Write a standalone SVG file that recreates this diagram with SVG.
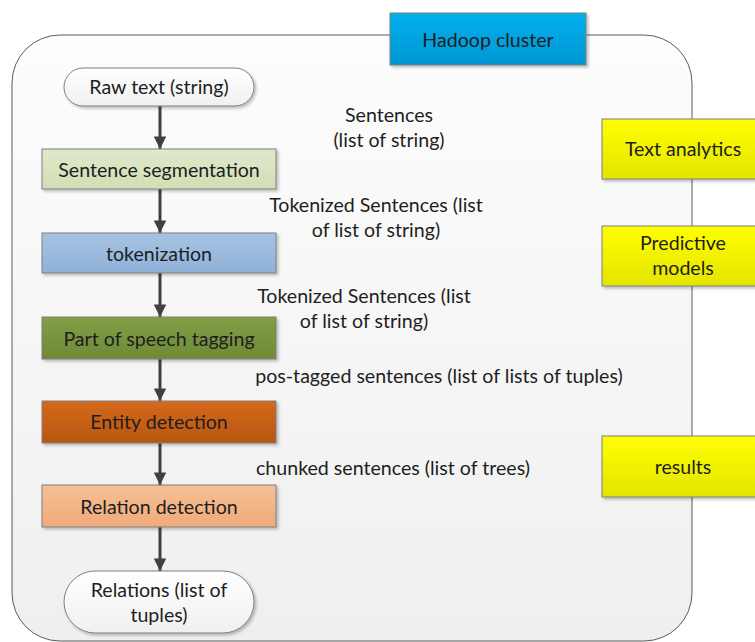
<svg xmlns="http://www.w3.org/2000/svg" width="755" height="642" viewBox="0 0 755 642">
<defs>
<linearGradient id="gCluster" x1="0" y1="0" x2="0" y2="1"><stop offset="0" stop-color="#fdfdfd"/><stop offset="1" stop-color="#efefef"/></linearGradient>
<linearGradient id="gBlue" x1="0" y1="0" x2="0" y2="1"><stop offset="0" stop-color="#00b0ec"/><stop offset="1" stop-color="#0096d2"/></linearGradient>
<linearGradient id="gYellow" x1="0" y1="0" x2="0" y2="1"><stop offset="0" stop-color="#ffff00"/><stop offset="1" stop-color="#e4e400"/></linearGradient>
<linearGradient id="gPill" x1="0" y1="0" x2="0" y2="1"><stop offset="0" stop-color="#ffffff"/><stop offset="1" stop-color="#f0f0f0"/></linearGradient>
<linearGradient id="gSeg" x1="0" y1="0" x2="0" y2="1"><stop offset="0" stop-color="#e0e9cb"/><stop offset="1" stop-color="#d2deb5"/></linearGradient>
<linearGradient id="gTok" x1="0" y1="0" x2="0" y2="1"><stop offset="0" stop-color="#a8c3e2"/><stop offset="1" stop-color="#8fb1d8"/></linearGradient>
<linearGradient id="gPos" x1="0" y1="0" x2="0" y2="1"><stop offset="0" stop-color="#829e45"/><stop offset="1" stop-color="#6f8a37"/></linearGradient>
<linearGradient id="gEnt" x1="0" y1="0" x2="0" y2="1"><stop offset="0" stop-color="#d4691c"/><stop offset="1" stop-color="#b9560f"/></linearGradient>
<linearGradient id="gRel" x1="0" y1="0" x2="0" y2="1"><stop offset="0" stop-color="#f6bf95"/><stop offset="1" stop-color="#f0aa7a"/></linearGradient>
<filter id="sh" x="-10%" y="-10%" width="130%" height="140%"><feDropShadow dx="2" dy="2" stdDeviation="1.5" flood-color="#000" flood-opacity="0.25"/></filter>
<marker id="arr" viewBox="0 0 10 10" refX="10" refY="5" markerWidth="4.2" markerHeight="4.2" markerUnits="strokeWidth" orient="auto"><path d="M0,0 L10,5 L0,10 z" fill="#404040"/></marker>
<style>
text{font-family:"Lato","Open Sans","Liberation Sans",sans-serif;font-size:19.6px;fill:#1e1e1e;text-anchor:middle;dominant-baseline:central}
.box{stroke:#7f7f7f;stroke-width:1;filter:url(#sh)}
.conn{stroke:#404040;stroke-width:3;fill:none;marker-end:url(#arr)}
</style>
</defs>
<g id="cluster">
<rect x="12" y="35" width="680" height="606" rx="48" ry="48" fill="url(#gCluster)" stroke="#5a5a5a" stroke-width="1"/>
</g>
<g id="hadoop"><rect class="box" x="390" y="13" width="196" height="52" fill="url(#gBlue)"/><text x="488" y="39">Hadoop cluster</text></g>
<g id="textanalytics"><rect class="box" x="602" y="119" width="160" height="60" fill="url(#gYellow)"/><text x="683" y="148">Text analytics</text></g>
<g id="predictive"><rect class="box" x="602" y="226" width="160" height="60" fill="url(#gYellow)"/><text x="683" y="242">Predictive</text><text x="683" y="267">models</text></g>
<g id="results"><rect class="box" x="602" y="436" width="160" height="61" fill="url(#gYellow)"/><text x="683" y="466">results</text></g>
<g id="connectors">
<line class="conn" x1="160" y1="106" x2="160" y2="149"/>
<line class="conn" x1="160" y1="189" x2="160" y2="233"/>
<line class="conn" x1="160" y1="273" x2="160" y2="317"/>
<line class="conn" x1="160" y1="359" x2="160" y2="401"/>
<line class="conn" x1="160" y1="443" x2="160" y2="485"/>
<line class="conn" x1="160" y1="527" x2="160" y2="571"/>
</g>
<g id="rawtext"><rect class="box" x="64" y="68" width="190" height="38" rx="19" ry="19" fill="url(#gPill)"/><text x="159" y="86">Raw text (string)</text></g>
<g id="segmentation"><rect class="box" x="42" y="149" width="234" height="40" fill="url(#gSeg)"/><text x="159" y="169">Sentence segmentation</text></g>
<g id="tokenization"><rect class="box" x="42" y="233" width="234" height="40" fill="url(#gTok)"/><text x="159" y="253">tokenization</text></g>
<g id="postagging"><rect class="box" x="42" y="317" width="234" height="42" fill="url(#gPos)"/><text x="159" y="338">Part of speech tagging</text></g>
<g id="entity"><rect class="box" x="42" y="401" width="234" height="42" fill="url(#gEnt)"/><text x="159" y="421">Entity detection</text></g>
<g id="relation"><rect class="box" x="42" y="485" width="234" height="42" fill="url(#gRel)"/><text x="159" y="506">Relation detection</text></g>
<g id="relations"><rect class="box" x="64" y="571" width="190" height="62" rx="31" ry="31" fill="url(#gPill)"/><text x="159" y="589">Relations (list of</text><text x="159" y="614">tuples)</text></g>
<g id="labels">
<text x="389" y="114">Sentences</text>
<text x="389" y="139">(list of string)</text>
<text x="376" y="204">Tokenized Sentences (list</text>
<text x="376" y="229">of list of string)</text>
<text x="364" y="295">Tokenized Sentences (list</text>
<text x="364" y="320">of list of string)</text>
<text x="439" y="375">pos-tagged sentences (list of lists of tuples)</text>
<text x="393" y="467">chunked sentences (list of trees)</text>
</g>
</svg>
